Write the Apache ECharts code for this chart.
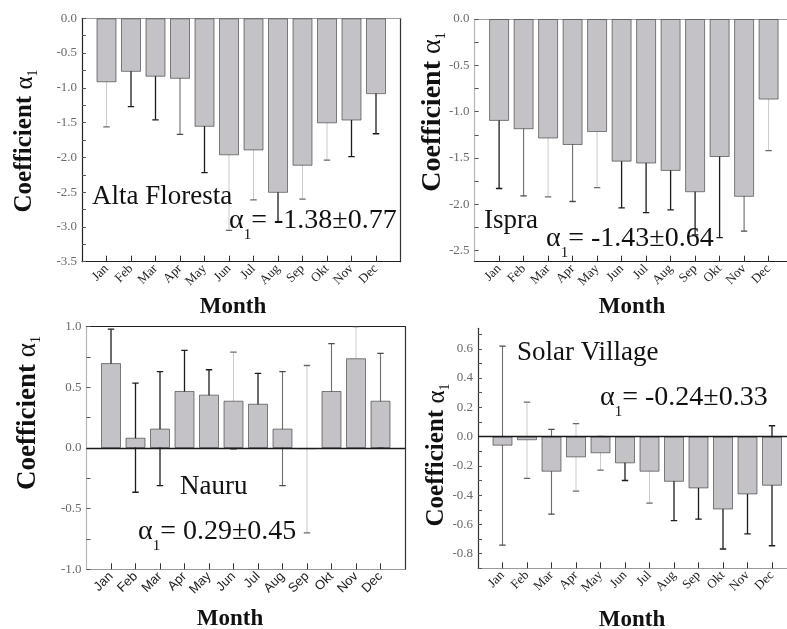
<!DOCTYPE html>
<html>
<head>
<meta charset="utf-8">
<script src="https://cdn.jsdelivr.net/npm/echarts@6/dist/echarts.min.js"></script>
<style>
  html, body { margin: 0; padding: 0; background: #fff; }
  #chart { width: 787px; height: 629px; }
</style>
</head>
<body>
<div id="chart"></div>
<script>
// Monthly Ångström coefficient α1 at four stations, with error bars.
const months = ['Jan', 'Feb', 'Mar', 'Apr', 'May', 'Jun', 'Jul', 'Aug', 'Sep', 'Okt', 'Nov', 'Dec'];

const altaValues  = [-0.92, -0.77, -0.84, -0.87, -1.56, -1.97, -1.90, -2.51, -2.12, -1.51, -1.47, -1.09];
const altaErrors  = [0.64, 0.50, 0.62, 0.80, 0.66, 1.08, 0.71, 0.42, 0.48, 0.53, 0.52, 0.57];

const ispraValues = [-1.10, -1.19, -1.29, -1.36, -1.22, -1.54, -1.56, -1.64, -1.87, -1.49, -1.92, -0.87];
const ispraErrors = [0.73, 0.72, 0.63, 0.61, 0.60, 0.50, 0.53, 0.42, 0.46, 0.87, 0.37, 0.55];

const nauruValues = [0.70, 0.085, 0.16, 0.47, 0.44, 0.39, 0.365, 0.16, -0.01, 0.47, 0.74, 0.39];
const nauruErrors = [0.28, 0.45, 0.47, 0.335, 0.205, 0.40, 0.25, 0.47, 0.69, 0.39, 0.26, 0.39];

const solarValues = [-0.062, -0.025, -0.24, -0.142, -0.114, -0.183, -0.24, -0.309, -0.354, -0.498, -0.395, -0.336];
const solarErrors = [0.68, 0.26, 0.29, 0.23, 0.115, 0.117, 0.215, 0.265, 0.21, 0.27, 0.27, 0.41];

// y tick labels of each panel
const altaTicks  = [0, -0.5, -1.0, -1.5, -2.0, -2.5, -3.0, -3.5];
const ispraTicks = [0, -0.5, -1.0, -1.5, -2.0, -2.5];
const nauruTicks = [1.0, 0.5, 0, -0.5, -1.0];
const solarTicks = [0.6, 0.4, 0.2, 0, -0.2, -0.4, -0.6, -0.8];

const stationNames = ['Alta Floresta', 'Ispra', 'Nauru', 'Solar Village'];
const alphaMeans   = ['-1.38', '-1.43', '0.29', '-0.24'];
const alphaSpreads = ['0.77', '0.64', '0.45', '0.33'];

// ---- styling ----
const SERIF = '"Liberation Serif", "Times New Roman", "DejaVu Serif", serif';
const SANS = '"Liberation Sans", Arial, sans-serif';
const BAR_FILL = '#c4c2c7';

// error bar shades: d = dark, m = medium, l = faint
const errShade = {
  d: { line: '#1c1c1c', cap: '#1c1c1c', w: 1.3 },
  m: { line: '#6e6e6e', cap: '#4a4a4a', w: 1.1 },
  l: { line: '#cbcbcb', cap: '#6a6a6a', w: 1.0 }
};
const altaShades  = ['l', 'd', 'd', 'm', 'd', 'l', 'l', 'd', 'l', 'l', 'd', 'd'];
const ispraShades = ['d', 'm', 'l', 'm', 'l', 'd', 'd', 'd', 'd', 'd', 'm', 'l'];
const nauruShades = ['d', 'd', 'd', 'd', 'd', 'l', 'd', 'm', 'l', 'm', 'l', 'm'];
const solarShades = ['m', 'l', 'm', 'l', 'l', 'd', 'l', 'd', 'd', 'd', 'd', 'd'];

const panels = [
  {
    values: altaValues, errors: altaErrors, ticks: altaTicks, shades: altaShades, minorStep: 0.25,
    left: 82, top: 18.3, height: 243.4, min: -3.5, max: 0,
    leftLine: '#222', bottomLine: '#222', topLine: '#9a9a9a', rightLine: '#333',
    labelFont: SERIF, zeroLine: false,
    yTitle: { x: 25, y: 141, size: 25 },
    month: { x: 233, y: 307 },
    name: { x: 92, y: 197 }, alpha: { x: 229, y: 221 }
  },
  {
    values: ispraValues, errors: ispraErrors, ticks: ispraTicks, shades: ispraShades, minorStep: 0.25,
    left: 474.6, top: 19, height: 242.7, min: -2.62, max: 0,
    leftLine: '#b5b5b5', bottomLine: '#222', topLine: '#a0a0a0', rightLine: null,
    labelFont: SERIF, zeroLine: false,
    yTitle: { x: 433, y: 112, size: 28 },
    month: { x: 632, y: 307 },
    name: { x: 484, y: 221 }, alpha: { x: 546, y: 239 }
  },
  {
    values: nauruValues, errors: nauruErrors, ticks: nauruTicks, shades: nauruShades, minorStep: 0.25,
    left: 86.5, top: 326.7, height: 242.6, min: -1, max: 1,
    leftLine: '#b5b5b5', bottomLine: '#9a9a9a', topLine: '#222', rightLine: '#333',
    labelFont: SANS, zeroLine: true,
    yTitle: { x: 28, y: 413, size: 27 },
    month: { x: 230, y: 619 },
    name: { x: 180, y: 487 }, alpha: { x: 138, y: 532 }
  },
  {
    values: solarValues, errors: solarErrors, ticks: solarTicks, shades: solarShades, minorStep: 0.1,
    left: 478, top: 328.3, height: 240, min: -0.9, max: 0.74,
    leftLine: '#333', bottomLine: '#9a9a9a', topLine: null, rightLine: null,
    labelFont: SERIF, zeroLine: true,
    yTitle: { x: 437, y: 455, size: 25 },
    month: { x: 632, y: 620 },
    name: { x: 517, y: 353 }, alpha: { x: 600, y: 398 }
  }
];

const BAND = 24.5;                 // width of one month on the x axis
const monthPos = months.map((m, k) => k + 1);

function minorTicks(min, max, step) {
  const out = [];
  const start = Math.ceil(min / step - 1e-9);
  const end = Math.floor(max / step + 1e-9);
  for (let k = start; k <= end; k++) out.push(+(k * step).toFixed(4));
  return out;
}

const option = {
  animation: false,
  backgroundColor: '#fff',
  grid: [], xAxis: [], yAxis: [], series: [], graphic: []
};

panels.forEach((p, i) => {
  option.grid.push({
    left: p.left, top: p.top, width: BAND * 13, height: p.height,
    containLabel: false, outerBoundsMode: 'none', show: false
  });

  // bottom month axis
  const xb = option.xAxis.length;
  option.xAxis.push({
    type: 'value', gridIndex: i, position: 'bottom', min: 0, max: 13,
    axisLine: { show: true, onZero: false, lineStyle: { color: p.bottomLine, width: 1.2 } },
    axisTick: { show: true, inside: true, length: 6, customValues: monthPos, lineStyle: { color: '#333', width: 1 } },
    axisLabel: {
      customValues: monthPos, rotate: 45, margin: 5,
      formatter: v => months[Math.round(v) - 1] || '',
      fontFamily: p.labelFont, fontSize: 13, color: '#222'
    },
    splitLine: { show: false }
  });
  // top frame line
  option.xAxis.push({
    type: 'value', gridIndex: i, position: 'top', min: 0, max: 13, show: !!p.topLine,
    axisLine: { show: true, onZero: false, lineStyle: { color: p.topLine || '#fff', width: 1.2 } },
    axisTick: { show: false }, axisLabel: { show: false }, splitLine: { show: false }
  });

  // left value axis
  const yl = option.yAxis.length;
  option.yAxis.push({
    type: 'value', gridIndex: i, position: 'left', min: p.min, max: p.max,
    axisLine: { show: true, onZero: false, lineStyle: { color: p.leftLine, width: 1.2 } },
    axisTick: { show: true, inside: true, length: 4, customValues: minorTicks(p.min, p.max, p.minorStep),
                lineStyle: { color: '#555', width: 1 } },
    axisLabel: {
      customValues: p.ticks, margin: 5,
      formatter: v => v.toFixed(1),
      fontFamily: SERIF, fontSize: 13, color: '#6a6a6a'
    },
    splitLine: { show: false }
  });
  // right frame line
  option.yAxis.push({
    type: 'value', gridIndex: i, position: 'right', min: p.min, max: p.max, show: !!p.rightLine,
    axisLine: { show: true, onZero: false, lineStyle: { color: p.rightLine || '#fff', width: 1.2 } },
    axisTick: { show: false }, axisLabel: { show: false }, splitLine: { show: false }
  });

  const bar = {
    type: 'bar', xAxisIndex: xb, yAxisIndex: yl, barWidth: 20,
    data: p.values.map((v, k) => [monthPos[k], v]),
    itemStyle: { color: BAR_FILL, borderColor: 'rgba(35,35,35,0.55)', borderWidth: 1 },
    silent: true
  };
  if (p.zeroLine) {
    bar.markLine = {
      silent: true, symbol: ['none', 'none'], label: { show: false },
      lineStyle: { color: '#1a1a1a', width: 1.3, type: 'solid' },
      data: [{ yAxis: 0 }]
    };
  }
  option.series.push(bar);

  const shades = p.shades;
  option.series.push({
    type: 'custom', xAxisIndex: xb, yAxisIndex: yl, silent: true, clip: true,
    data: p.values.map((v, k) => [monthPos[k], v - p.errors[k], v + p.errors[k]]),
    encode: { x: 0, y: [1, 2] },
    renderItem: (params, api) => {
      const x = api.value(0);
      const lo = api.coord([x, api.value(1)]);
      const hi = api.coord([x, api.value(2)]);
      const s = errShade[shades[params.dataIndex]];
      const cap = 3.2;
      return {
        type: 'group',
        children: [
          { type: 'line', shape: { x1: lo[0], y1: lo[1], x2: hi[0], y2: hi[1] },
            style: { stroke: s.line, lineWidth: s.w } },
          { type: 'line', shape: { x1: lo[0] - cap, y1: lo[1], x2: lo[0] + cap, y2: lo[1] },
            style: { stroke: s.cap, lineWidth: 1.3 } },
          { type: 'line', shape: { x1: hi[0] - cap, y1: hi[1], x2: hi[0] + cap, y2: hi[1] },
            style: { stroke: s.cap, lineWidth: 1.3 } }
        ]
      };
    }
  });

  // axis titles
  option.graphic.push({
    type: 'text', x: p.yTitle.x, y: p.yTitle.y, rotation: Math.PI / 2, z: 10,
    style: {
      text: '{c|Coefficient }{a|α}{s|1}', align: 'center', verticalAlign: 'middle',
      rich: {
        c: { fontFamily: SERIF, fontWeight: 'bold', fontSize: p.yTitle.size, lineHeight: 30, fill: '#111' },
        a: { fontFamily: SERIF, fontSize: p.yTitle.size, lineHeight: 30, fill: '#111' },
        s: { fontFamily: SERIF, fontSize: 14, lineHeight: 14, verticalAlign: 'bottom', fill: '#111' }
      }
    }
  });
  option.graphic.push({
    type: 'text', x: p.month.x, y: p.month.y, z: 10,
    style: { text: 'Month', font: 'bold 23px ' + SERIF, fill: '#111', align: 'center', verticalAlign: 'middle' }
  });

  // station name and mean coefficient
  option.graphic.push({
    type: 'text', x: p.name.x, y: p.name.y, z: 10,
    style: { text: stationNames[i], font: '27px ' + SERIF, fill: '#111', align: 'left', verticalAlign: 'middle' }
  });
  option.graphic.push({
    type: 'text', x: p.alpha.x, y: p.alpha.y, z: 10,
    style: {
      text: '{a|α}{s|1}{b|= ' + alphaMeans[i] + '±' + alphaSpreads[i] + '}',
      align: 'left', verticalAlign: 'middle',
      rich: {
        a: { fontFamily: SERIF, fontSize: 28, lineHeight: 44, fill: '#111' },
        s: { fontFamily: SERIF, fontSize: 15, lineHeight: 15, verticalAlign: 'bottom', fill: '#111' },
        b: { fontFamily: SERIF, fontSize: 28, lineHeight: 44, fill: '#111' }
      }
    }
  });
});

const chart = echarts.init(document.getElementById('chart'), null, { renderer: 'canvas' });
chart.setOption(option);
</script>
</body>
</html>
